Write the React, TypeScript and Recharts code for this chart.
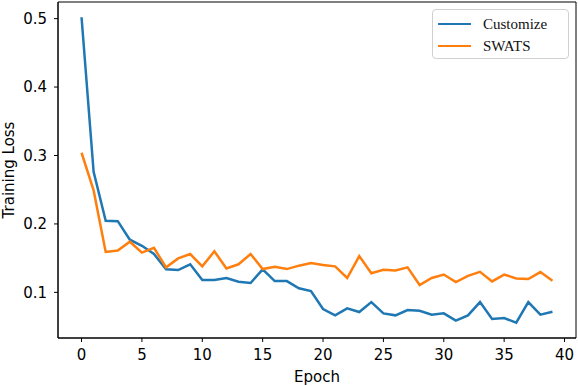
import React from 'react';
import { LineChart, Line, XAxis, YAxis, Legend, ReferenceArea } from 'recharts';

// epoch index + two loss curves
const epochs = Array.from({ length: 40 }, (_, i) => i);
const customize = [
  0.502, 0.276, 0.2045, 0.204, 0.177, 0.168, 0.156, 0.1336, 0.1326, 0.141,
  0.118, 0.118, 0.121, 0.1155, 0.1136, 0.1336, 0.1165, 0.1165, 0.106, 0.102,
  0.0756, 0.0664, 0.0766, 0.0712, 0.0858, 0.0693, 0.0664, 0.0742, 0.0732, 0.0673,
  0.0693, 0.0586, 0.0664, 0.0858, 0.061, 0.0625, 0.0556, 0.0858, 0.0673, 0.0717,
];
const swats = [
  0.304, 0.249, 0.159, 0.161, 0.174, 0.158, 0.165, 0.1365, 0.1496, 0.156,
  0.138, 0.16, 0.135, 0.141, 0.156, 0.134, 0.1374, 0.134, 0.139, 0.1428,
  0.14, 0.138, 0.121, 0.153, 0.128, 0.133, 0.132, 0.1365, 0.1107, 0.121,
  0.126, 0.115, 0.124, 0.13, 0.116, 0.126, 0.1204, 0.1194, 0.1296, 0.117,
];
const xTicks = [0, 5, 10, 15, 20, 25, 30, 35, 40];
const yTicks = [0.1, 0.2, 0.3, 0.4, 0.5];

const X_DOMAIN: [number, number] = [-1.95, 40.95];
const Y_DOMAIN: [number, number] = [0.0333, 0.5243];

const BLUE = '#1f77b4';
const ORANGE = '#ff7f0e';
const AXIS_FONT = "'DejaVu Sans', sans-serif";

const data = epochs.map((e, i) => ({ epoch: e, customize: customize[i], swats: swats[i] }));

const series = [
  { key: 'customize', name: 'Customize', color: BLUE },
  { key: 'swats', name: 'SWATS', color: ORANGE },
];

function LegendBox() {
  return (
    <div
      style={{
        border: '1px solid #d0d0d0',
        borderRadius: 4,
        background: '#fff',
        padding: '3px 0 0 0',
        boxSizing: 'border-box',
        width: 137,
        height: 50,
        fontFamily: "'Liberation Serif', serif",
        fontSize: 15,
        color: '#111',
      }}
    >
      {series.map((s) => (
        <div key={s.key} style={{ display: 'flex', alignItems: 'center', height: 22 }}>
          <span style={{ display: 'inline-block', width: 33, height: 2.5, background: s.color, marginLeft: 5, marginRight: 12 }} />
          <span>{s.name}</span>
        </div>
      ))}
    </div>
  );
}

export default function App() {
  const tickStyle = { fontFamily: AXIS_FONT, fontSize: 15, fill: '#000' };
  return (
    <div style={{ position: 'absolute', left: 0, top: 0, background: '#fff' }}>
      <LineChart width={578} height={386} data={data} margin={{ top: 2, right: 2, bottom: 0, left: 0 }}>
        <XAxis
          dataKey="epoch"
          type="number"
          domain={X_DOMAIN}
          ticks={xTicks}
          allowDataOverflow
          height={48}
          tickSize={4}
          tickMargin={7}
          tick={tickStyle}
          axisLine={{ stroke: '#000' }}
          tickLine={{ stroke: '#000' }}
          label={({ viewBox }: any) => (
            <text
              x={viewBox.x + viewBox.width / 2}
              y={viewBox.y + 44}
              textAnchor="middle"
              style={{ fontFamily: AXIS_FONT, fontSize: 15 }}
              fill="#000"
            >
              Epoch
            </text>
          )}
        />
        <YAxis
          type="number"
          domain={Y_DOMAIN}
          ticks={yTicks}
          allowDataOverflow
          width={58}
          tickSize={4}
          tickMargin={7}
          tick={tickStyle}
          tickFormatter={(v: number) => v.toFixed(1)}
          axisLine={{ stroke: '#000' }}
          tickLine={{ stroke: '#000' }}
          label={({ viewBox }: any) => {
            const cx = viewBox.x + 9;
            const cy = viewBox.y + viewBox.height / 2;
            return (
              <text
                x={cx}
                y={cy}
                transform={`rotate(-90, ${cx}, ${cy})`}
                textAnchor="middle"
                dominantBaseline="central"
                style={{ fontFamily: AXIS_FONT, fontSize: 15 }}
                fill="#000"
              >
                Training Loss
              </text>
            );
          }}
        />
        <ReferenceArea
          x1={X_DOMAIN[0]}
          x2={X_DOMAIN[1]}
          y1={Y_DOMAIN[0]}
          y2={Y_DOMAIN[1]}
          fill="none"
          stroke="#000"
          strokeWidth={1}
        />
        {series.map((s) => (
          <Line
            key={s.key}
            dataKey={s.key}
            name={s.name}
            stroke={s.color}
            strokeWidth={2.5}
            dot={false}
            activeDot={false}
            isAnimationActive={false}
          />
        ))}
        <Legend
          layout="horizontal"
          verticalAlign="middle"
          align="center"
          content={() => <LegendBox />}
          wrapperStyle={{ top: 9, left: 432, width: 137, height: 50 }}
        />
      </LineChart>
    </div>
  );
}
